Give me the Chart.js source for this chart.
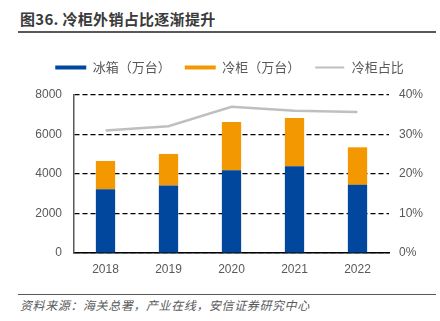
<!DOCTYPE html>
<html>
<head>
<meta charset="utf-8">
<script src="https://cdn.jsdelivr.net/npm/chart.js@4/dist/chart.umd.min.js"></script>
<style>
  html, body { margin: 0; padding: 0; background: #ffffff; }
  body { width: 440px; height: 321px; position: relative; overflow: hidden;
         font-family: "Noto Sans CJK SC", "Liberation Sans", sans-serif; }
  #title { position: absolute; left: 20px; top: 8px; font-size: 15px; font-weight: bold;
           color: #3a3a3a; letter-spacing: 0.3px; }
  #titleRule { position: absolute; left: 18px; top: 31px; width: 418px; height: 2px; background: #595959; }
  #footRule { position: absolute; left: 18px; top: 294px; width: 418px; height: 1px; background: #595959; }
  #foot { position: absolute; left: 20px; top: 296px; font-size: 12px; font-style: italic; color: #595959;
          letter-spacing: 0.6px; }
  #wrap { position: absolute; left: 0; top: 43px; width: 440px; height: 242px; }
</style>
</head>
<body>
<div id="title">图36. 冷柜外销占比逐渐提升</div>
<div id="titleRule"></div>
<div id="wrap"><canvas id="c"></canvas></div>
<div id="footRule"></div>
<div id="foot">资料来源：海关总署，产业在线，安信证券研究中心</div>
<script>
// Annual figures, 2018–2022
const years = ['2018', '2019', '2020', '2021', '2022'];
const fridges = [3230, 3420, 4190, 4390, 3450];     // 冰箱（万台）
const freezers = [1430, 1595, 2440, 2440, 1900];    // 冷柜（万台）
const freezerShare = [31.0, 32.1, 37.0, 36.0, 35.7]; // 冷柜占比 (%)
const leftTicks = [0, 2000, 4000, 6000, 8000];
const rightTicks = [0, 10, 20, 30, 40];

const BLUE = '#00479D';
const ORANGE = '#F39800';
const GREY = '#BFBFBF';
const TEXT = '#595959';

// Extra room between the legend row and the plot area
const legendGap = {
  id: 'legendGap',
  afterInit(chart) {
    const lg = chart.legend;
    if (!lg) return;
    const fit = lg.fit;
    lg.fit = function () { fit.call(this); this.height += 11; };
  }
};

new Chart(document.getElementById('c'), {
  data: {
    labels: years,
    datasets: [
      { type: 'bar', label: '冰箱（万台）', data: fridges, backgroundColor: BLUE,
        yAxisID: 'y', stack: 's', barPercentage: 0.306, categoryPercentage: 1 },
      { type: 'bar', label: '冷柜（万台）', data: freezers, backgroundColor: ORANGE,
        yAxisID: 'y', stack: 's', barPercentage: 0.306, categoryPercentage: 1 },
      { type: 'line', label: '冷柜占比', data: freezerShare, borderColor: GREY,
        backgroundColor: GREY, borderWidth: 2.5, pointRadius: 0, yAxisID: 'y1',
        tension: 0 }
    ]
  },
  plugins: [legendGap],
  options: {
    responsive: true,
    maintainAspectRatio: false,
    animation: false,
    layout: { padding: { top: 4, left: 19, right: 0, bottom: 0 } },
    plugins: {
      tooltip: { enabled: false },
      legend: {
        position: 'top',
        labels: {
          color: TEXT,
          font: { family: '"Noto Sans CJK SC", sans-serif', size: 13 },
          boxWidth: 31,
          boxHeight: 4,
          padding: 14,
          generateLabels(chart) {
            return chart.data.datasets.map((ds, i) => {
              const isLine = ds.type === 'line';
              return {
                text: ds.label,
                fillStyle: isLine ? GREY : ds.backgroundColor,
                // a white outline trims the line swatch to a thin stroke
                strokeStyle: isLine ? '#ffffff' : 'rgba(0,0,0,0)',
                lineWidth: isLine ? 2 : 0,
                fontColor: TEXT,
                datasetIndex: i,
                hidden: false
              };
            });
          }
        }
      }
    },
    scales: {
      x: {
        stacked: true,
        grid: { display: false, drawTicks: false },
        border: { display: true, color: '#000000', width: 1.5 },
        ticks: { color: TEXT, font: { family: '"Liberation Sans", Arial, sans-serif', size: 12 }, padding: 9 },
        afterFit(scale) { scale.height = 32; }
      },
      y: {
        position: 'left',
        stacked: true,
        min: 0, max: 8000,
        afterBuildTicks(scale) { scale.ticks = leftTicks.map(v => ({ value: v })); },
        grid: { color: '#000000', lineWidth: 1.2, drawTicks: false },
        border: { display: true, color: TEXT, width: 1.5, dash: [5, 3] },
        ticks: { color: TEXT, font: { family: '"Liberation Sans", Arial, sans-serif', size: 12 }, padding: 12,
                 callback: v => String(v) },
        afterFit(scale) { scale.width = 55; }
      },
      y1: {
        position: 'right',
        min: 0, max: 40,
        afterBuildTicks(scale) { scale.ticks = rightTicks.map(v => ({ value: v })); },
        grid: { display: false, drawTicks: false },
        border: { display: false },
        ticks: { color: TEXT, font: { family: '"Liberation Sans", Arial, sans-serif', size: 12 }, padding: 10,
                 callback: v => v + '%' },
        afterFit(scale) { scale.width = 51; }
      }
    }
  }
});
</script>
</body>
</html>
